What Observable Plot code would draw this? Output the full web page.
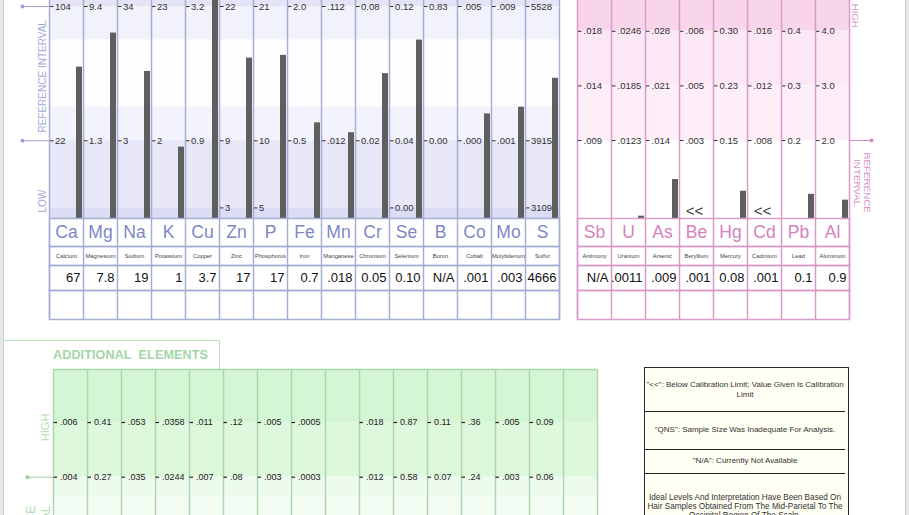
<!DOCTYPE html>
<html><head><meta charset="utf-8">
<script src="https://cdn.jsdelivr.net/npm/d3@7"></script>
<script src="https://cdn.jsdelivr.net/npm/@observablehq/plot@0.6"></script>
<style>
html,body{margin:0;padding:0;background:#fff;}
#page{position:relative;width:909px;height:515px;overflow:hidden;background:#fff;font-family:"Liberation Sans",Arial,sans-serif;}
.abs{position:absolute;}
.abs svg{overflow:visible;display:block;}
#legend{position:absolute;left:644px;top:367px;width:205px;height:170px;box-sizing:border-box;border:1.5px solid #2b2b2b;background:#fffff3;color:#333;font-size:8px;}
.lrow{box-sizing:border-box;display:flex;align-items:center;justify-content:center;text-align:center;line-height:10px;border-bottom:1.5px solid #222;margin-right:3px;}
.lrow.last{border-bottom:none;align-items:flex-start;padding-top:19px;line-height:9.3px;font-size:8.2px;}
#tab{position:absolute;left:3px;top:340px;width:217px;height:29px;box-sizing:border-box;border-top:1px solid #bfe0bf;border-right:1px solid #bfe0bf;}
#tab span{position:absolute;left:50px;top:7px;font-weight:bold;font-size:12.6px;color:#a3d6a3;white-space:pre;letter-spacing:0.1px;}
</style></head><body><div id="page"></div>
<script>
// ---------- DATA ----------
const nutrientSymbols = ["Ca","Mg","Na","K","Cu","Zn","P","Fe","Mn","Cr","Se","B","Co","Mo","S"];
const nutrientNames = ["Calcium","Magnesium","Sodium","Potassium","Copper","Zinc","Phosphorus","Iron","Manganese","Chromium","Selenium","Boron","Cobalt","Molybdenum","Sulfur"];
const nutrientResults = ["67","7.8","19","1","3.7","17","17","0.7",".018","0.05","0.10","N/A",".001",".003","4666"];
const nutrientHigh = ["104","9.4","34","23","3.2","22","21","2.0",".112","0.08","0.12","0.83",".005",".009","5528"];
const nutrientLow = ["22","1.3","3","2","0.9","9","10","0.5",".012","0.02","0.04","0.00",".000",".001","3915"];
const nutrientFloor = ["","","","","","3","5","","","","0.00","","","","3109"];

const toxicSymbols = ["Sb","U","As","Be","Hg","Cd","Pb","Al"];
const toxicNames = ["Antimony","Uranium","Arsenic","Beryllium","Mercury","Cadmium","Lead","Aluminum"];
const toxicResults = ["N/A",".0011",".009",".001","0.08",".001","0.1","0.9"];
const toxicLimit = [".009",".0123",".014",".003","0.15",".008","0.2","2.0"];
const toxicMid = [".014",".0185",".021",".005","0.23",".012","0.3","3.0"];
const toxicHigh = [".018",".0246",".028",".006","0.30",".016","0.4","4.0"];
// bar heights, in units of the reference interval (1 = limit)
const toxicBarLevel = [null, 0.03, 0.50, null, 0.35, null, 0.31, 0.235];
const toxicFlag = ["","","","<<","","<<","",""];

const additionalHigh = [".006","0.41",".053",".0358",".011",".12",".005",".0005","",".018","0.87","0.11",".36",".005","0.09",""];
const additionalLow = [".004","0.27",".035",".0244",".007",".08",".003",".0003","",".012","0.58","0.07",".24",".003","0.06",""];

const legendNotes = [
  ["\"<<\": Below Calibration Limit; Value Given Is Calibration", "Limit"],
  ["\"QNS\": Sample Size Was Inadequate For Analysis."],
  ["\"N/A\": Currently Not Available"],
  ["Ideal Levels And Interpretation Have Been Based On", "Hair Samples Obtained From The Mid-Parietal To The", "Occipital Region Of The Scalp."]
];

// ---------- LAYOUT / STYLE ----------
const COL = 34;
const FONT = '"Liberation Sans", Arial, sans-serif';
const NARROW = '"Liberation Sans Narrow", "Liberation Sans", Arial, sans-serif';
const STYLE = `background:transparent;overflow:visible;max-width:none;font-family:${FONT};`;
const page = document.getElementById("page");
function place(node, left, top, width) {
  const d = document.createElement("div");
  d.className = "abs";
  d.style.left = left + "px"; d.style.top = top + "px"; d.style.width = width + "px";
  d.appendChild(node); page.appendChild(d); return d;
}
function tickList(symbols, rows) {
  const out = [];
  rows.forEach(([level, labels]) => labels.forEach((label, i) => { if (label !== "") out.push({s: symbols[i], level, label}); }));
  return out;
}
const bandMarks = (bands) => bands.map(([a, b, f]) => Plot.rect([0], {y1: () => a, y2: () => b, fill: f}));
const colLines = (symbols, stroke) => [
  Plot.ruleX(symbols, {x: d => d, dx: -COL / 2, stroke, strokeWidth: 1.5}),
  Plot.ruleX(symbols.slice(-1), {x: d => d, dx: COL / 2, stroke, strokeWidth: 1.5})
];

// table rows under a panel
function tableRows(symbols, rows, {left, top, marginLeft, marginRight, stroke}) {
  let y = top;
  const width = marginLeft + symbols.length * COL + marginRight;
  rows.forEach(r => {
    const data = symbols.map((s, i) => ({s, t: r.texts ? r.texts[i] : ""}));
    const p = Plot.plot({
      width, height: r.height, marginLeft, marginRight, marginTop: 0, marginBottom: 0,
      style: STYLE,
      x: {type: "band", domain: symbols, padding: 0, axis: null},
      marks: [
        Plot.frame({stroke, strokeWidth: 1.5}),
        ...colLines(symbols, stroke),
        r.texts ? Plot.text(data, {x: "s", text: "t", ...r.textOpts}) : null
      ]
    });
    place(p, left, y, width);
    y += r.height;
  });
}

// ---------- page edges ----------
const edgeL = document.createElement("div");
edgeL.style.cssText = "position:absolute;left:0;top:0;width:3px;height:515px;background:#e6e6e6;border-right:1px solid #cfcfcf;";
page.appendChild(edgeL);
const edgeR = document.createElement("div");
edgeR.style.cssText = "position:absolute;left:905px;top:0;width:4px;height:515px;background:#e6e6e6;border-left:1px solid #c9c9c9;";
page.appendChild(edgeR);

// ---------- NUTRIENT (blue) PANEL ----------
const BLUE = {line: "#a7aed4", sym: "#7d87c6", deco: "#a4a9d8", dot: "#9ca1d4"};
const blueY = [-0.579, 1.045];
const blueBars = nutrientSymbols.map((s, i) => ({
  s, level: (parseFloat(nutrientResults[i]) - parseFloat(nutrientLow[i])) / (parseFloat(nutrientHigh[i]) - parseFloat(nutrientLow[i]))
})).filter(d => isFinite(d.level));
const blueTicks = tickList(nutrientSymbols, [[1, nutrientHigh], [0, nutrientLow], [-0.5, nutrientFloor]]);

const blueChart = Plot.plot({
  width: 560, height: 218, marginLeft: 49, marginRight: 1, marginTop: 0, marginBottom: 0,
  style: STYLE,
  x: {type: "band", domain: nutrientSymbols, padding: 0, axis: null},
  y: {domain: blueY, axis: null},
  marks: [
    ...bandMarks([[1, 1.045, "#e4e4f6"], [0.75, 1, "#f2f2fc"], [0.25, 0.75, "#fdfdff"], [0, 0.25, "#f3f3fd"], [-0.5, 0, "#e7e7f8"], [-0.579, -0.5, "#dcdcf4"]]),
    ...colLines(nutrientSymbols, BLUE.line),
    Plot.barY(blueBars, {x: "s", y1: () => blueY[0], y2: "level", fill: "#5f5f5f", insetLeft: 27, insetRight: 1, clip: true}),
    Plot.tickY(blueTicks, {x: "s", y: "level", stroke: "#333", strokeWidth: 1, insetLeft: 1, insetRight: COL - 4.5}),
    Plot.text(blueTicks, {x: "s", y: "level", text: "label", textAnchor: "start", dx: -COL / 2 + 5.5, fontSize: 9.5, fill: "#333"}),
    Plot.tickY([0, 1], {x: () => nutrientSymbols[0], y: d => d, stroke: BLUE.dot, strokeWidth: 1, insetLeft: -27, insetRight: COL}),
    Plot.dot([0, 1], {y: d => d, frameAnchor: "left", dx: -27, r: 2, fill: BLUE.dot, stroke: "none"}),
    Plot.text(["REFERENCE INTERVAL"], {text: d => d, y: () => 0.48, frameAnchor: "left", textAnchor: "middle", dx: -7, rotate: -90, fontSize: 10, fill: BLUE.deco}),
    Plot.text(["LOW"], {text: d => d, y: () => -0.45, frameAnchor: "left", textAnchor: "middle", dx: -7, rotate: -90, fontSize: 10, fill: BLUE.deco})
  ]
});
place(blueChart, 0, 0, 560);

tableRows(nutrientSymbols, [
  {height: 28, texts: nutrientSymbols, textOpts: {fontSize: 17.5, fill: BLUE.sym}},
  {height: 19, texts: nutrientNames, textOpts: {fontSize: 5.8, fill: "#444"}},
  {height: 25, texts: nutrientResults, textOpts: {fontSize: 13, fill: "#111", textAnchor: "end", dx: COL / 2 - 3}},
  {height: 29}
], {left: 0, top: 218, marginLeft: 49, marginRight: 1, stroke: BLUE.line});

// ---------- TOXIC (pink) PANEL ----------
const PINK = {line: "#d99bc9", sym: "#d880bd", deco: "#d595c6", dot: "#d688c0"};
const pinkY = [0, 2.795];
const pinkBars = toxicSymbols.map((s, i) => ({s, level: toxicBarLevel[i]})).filter(d => d.level != null);
const pinkFlags = toxicSymbols.map((s, i) => ({s, t: toxicFlag[i]})).filter(d => d.t !== "");
const pinkTicks = tickList(toxicSymbols, [[1, toxicLimit], [1.7, toxicMid], [2.4, toxicHigh]]);

const pinkChart = Plot.plot({
  width: 314, height: 218, marginLeft: 2, marginRight: 40, marginTop: 0, marginBottom: 0,
  style: STYLE,
  x: {type: "band", domain: toxicSymbols, padding: 0, axis: null},
  y: {domain: pinkY, axis: null},
  marks: [
    ...bandMarks([[2.41, 2.795, "#f8d5ea"], [1.7, 2.41, "#fce7f4"], [1, 1.7, "#fdeef8"]]),
    ...colLines(toxicSymbols, PINK.line),
    Plot.barY(pinkBars, {x: "s", y1: () => 0, y2: "level", fill: "#5f5f5f", insetLeft: 27, insetRight: 1}),
    Plot.text(pinkFlags, {x: "s", y: () => 0.1, text: "t", dx: -2, fontSize: 15, fill: "#3a3a3a"}),
    Plot.tickY(pinkTicks, {x: "s", y: "level", stroke: "#333", strokeWidth: 1, insetLeft: 1, insetRight: COL - 4.5}),
    Plot.text(pinkTicks, {x: "s", y: "level", text: "label", textAnchor: "start", dx: -COL / 2 + 6, fontSize: 9.5, fill: "#333"}),
    Plot.tickY([1], {x: () => toxicSymbols[toxicSymbols.length - 1], y: d => d, stroke: PINK.dot, strokeWidth: 1, insetLeft: COL, insetRight: -22}),
    Plot.dot([1], {y: d => d, frameAnchor: "right", dx: 22, r: 2, fill: PINK.dot, stroke: "none"}),
    Plot.text(["HIGH"], {text: d => d, y: () => 2.6, frameAnchor: "right", textAnchor: "middle", dx: 6, rotate: 90, fontSize: 9.5, fill: PINK.deco}),
    Plot.text(["REFERENCE\nINTERVAL"], {text: d => d, y: () => 0.46, frameAnchor: "right", textAnchor: "middle", dx: 13, rotate: 90, fontSize: 9.8, lineHeight: 1.1, fill: PINK.deco})
  ]
});
place(pinkChart, 575, 0, 314);

tableRows(toxicSymbols, [
  {height: 28, texts: toxicSymbols, textOpts: {fontSize: 17.5, fill: PINK.sym}},
  {height: 19, texts: toxicNames, textOpts: {fontSize: 5.8, fill: "#444"}},
  {height: 25, texts: toxicResults, textOpts: {fontSize: 13, fill: "#111", textAnchor: "end", dx: COL / 2 - 3}},
  {height: 29}
], {left: 575, top: 218, marginLeft: 2, marginRight: 1, stroke: PINK.line});

// ---------- ADDITIONAL ELEMENTS (green) PANEL ----------
const tab = document.createElement("div");
tab.id = "tab";
tab.innerHTML = "<span>ADDITIONAL  ELEMENTS</span>";
page.appendChild(tab);

const GREEN = {line: "#acd6ac", deco: "#b3dab3", dot: "#9ccb9c"};
const greenCols = d3.range(additionalHigh.length);
const greenY = [-0.70, 1.969];
const greenTicks = tickList(greenCols, [[1, additionalHigh], [0, additionalLow]]);
const greenChart = Plot.plot({
  width: 53 + greenCols.length * COL + 2, height: 146, marginLeft: 53, marginRight: 2, marginTop: 0, marginBottom: 0,
  style: STYLE,
  x: {type: "band", domain: greenCols, padding: 0, axis: null},
  y: {domain: greenY, axis: null},
  marks: [
    ...bandMarks([[1, 1.969, "#d5f6d5"], [0, 1, "#def8de"], [-0.35, 0, "#edfbed"], [-0.70, -0.35, "#f4fdf4"]]),
    ...colLines(greenCols, GREEN.line),
    Plot.ruleY([0], {y: () => greenY[1], stroke: GREEN.line, strokeWidth: 1.5}),
    Plot.tickY(greenTicks, {x: "s", y: "level", stroke: "#222", strokeWidth: 1.2, insetLeft: 0.5, insetRight: COL - 4}),
    Plot.text(greenTicks, {x: "s", y: "level", text: "label", textAnchor: "start", dx: -COL / 2 + 6.5, fontSize: 9, fontFamily: NARROW, fill: "#222"}),
    Plot.tickY([0], {x: () => greenCols[0], y: d => d, stroke: GREEN.dot, strokeWidth: 1, insetLeft: -26, insetRight: COL}),
    Plot.dot([0], {y: d => d, frameAnchor: "left", dx: -26, r: 2, fill: GREEN.dot, stroke: "none"}),
    Plot.text(["HIGH"], {text: d => d, y: () => 0.91, frameAnchor: "left", textAnchor: "middle", dx: -8, rotate: -90, fontSize: 11, fill: GREEN.deco}),
    Plot.text(["REFERENCE\nINTERVAL"], {text: d => d, y: () => -0.52, frameAnchor: "left", dx: -16, rotate: -90, textAnchor: "end", lineHeight: 1.3, fontSize: 12, fill: GREEN.deco})
  ]
});
place(greenChart, 0, 369, 53 + greenCols.length * COL + 2);

// ---------- legend box ----------
const legend = document.createElement("div");
legend.id = "legend";
const rowHeights = [44, 37.5, 24, null];
legendNotes.forEach((lines, i) => {
  const r = document.createElement("div");
  r.className = "lrow" + (i === legendNotes.length - 1 ? " last" : "");
  if (rowHeights[i] != null) r.style.height = rowHeights[i] + "px";
  r.innerHTML = lines.map(l => l.replace(/</g, "&lt;")).join("<br>");
  legend.appendChild(r);
});
page.appendChild(legend);
</script>
</body></html>
